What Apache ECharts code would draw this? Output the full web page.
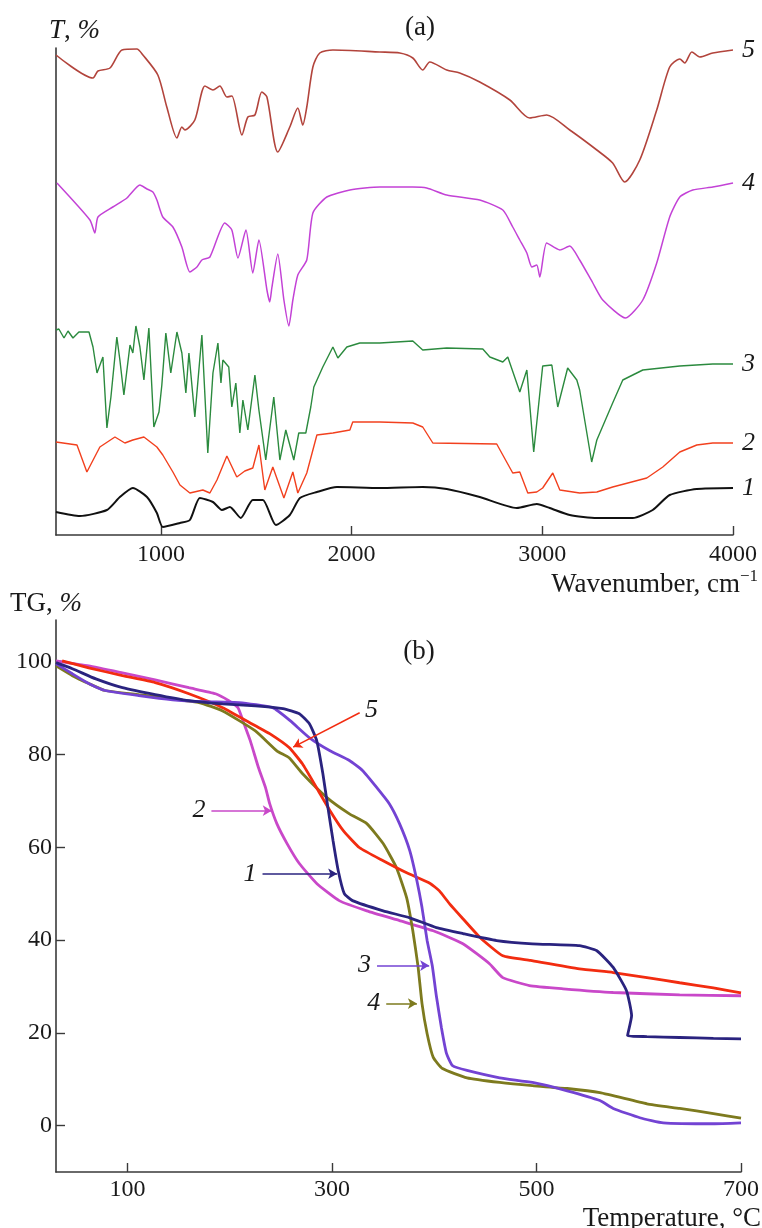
<!DOCTYPE html>
<html>
<head>
<meta charset="utf-8">
<script src="https://cdn.jsdelivr.net/npm/echarts@6/dist/echarts.min.js"></script>
<style>
  html, body { margin: 0; padding: 0; background: #fff; }
  #chart { width: 762px; height: 1228px; }
</style>
</head>
<body>
<div id="chart"></div>
<script>
// ---------- (a) IR spectra: [wavenumber, T (offset, a.u.)] ----------
const irSample5 = [[450,96.0],[644,91.4],[670,92.8],[733,93.4],[796,97.0],[874,97.2],[906,96.0],[984,92.0],[1031,85.6],[1084,79.4],[1110,81.6],[1126,81.0],[1178,83.0],[1231,89.8],[1273,89.0],[1309,89.8],[1346,87.6],[1372,87.8],[1425,80.0],[1456,83.6],[1493,84.0],[1529,88.6],[1556,87.6],[1613,76.6],[1676,81.6],[1718,85.4],[1744,82.0],[1765,85.6],[1797,93.6],[1833,96.4],[1902,97.0],[2148,96.6],[2253,96.4],[2321,95.4],[2373,93.0],[2410,94.6],[2499,93.0],[2567,92.4],[2672,90.6],[2830,87.0],[2934,83.4],[3023,84.0],[3144,81.0],[3286,77.0],[3369,74.4],[3432,70.6],[3511,75.0],[3600,85.0],[3668,93.6],[3721,95.2],[3747,94.4],[3784,96.6],[3826,95.6],[3894,96.4],[4000,97.0]];

const irSample4 = [[455,70.4],[628,63.0],[654,60.4],[670,63.6],[748,65.6],[822,67.4],[890,70.0],[927,69.2],[958,68.6],[979,67.0],[1010,63.6],[1063,61.6],[1110,57.6],[1152,52.6],[1189,53.6],[1215,55.0],[1257,55.6],[1335,62.4],[1372,61.0],[1404,55.4],[1446,61.0],[1482,52.4],[1514,59.0],[1556,49.0],[1571,46.6],[1582,49.5],[1613,56.2],[1645,47.0],[1671,41.8],[1692,47.0],[1718,52.0],[1765,55.0],[1797,64.4],[1870,67.6],[1991,69.0],[2148,69.6],[2321,69.6],[2394,69.4],[2499,68.0],[2672,67.0],[2793,65.0],[2845,61.6],[2882,59.0],[2919,56.4],[2945,53.6],[2971,54.0],[2987,51.6],[3023,58.4],[3092,57.0],[3144,57.8],[3196,55.0],[3265,50.4],[3317,47.0],[3437,43.4],[3527,47.0],[3600,54.4],[3668,63.6],[3721,67.6],[3789,69.0],[3894,69.6],[4000,70.4]];

const irSample3 = [[450,41.0],[465,41.2],[492,39.4],[513,40.8],[539,39.4],[570,40.6],[623,40.6],[644,37.6],[665,32.4],[696,35.6],[717,21.4],[738,27.6],[769,39.6],[785,35.0],[806,28.0],[838,38.0],[853,36.4],[869,41.8],[890,37.6],[911,31.0],[937,41.4],[963,21.6],[990,24.6],[1005,30.0],[1026,40.4],[1052,32.4],[1084,40.6],[1110,36.4],[1131,28.4],[1147,36.4],[1178,23.6],[1215,40.0],[1246,16.4],[1273,32.4],[1299,38.4],[1315,30.4],[1325,35.0],[1356,33.6],[1372,25.6],[1393,30.4],[1414,20.4],[1430,27.0],[1456,21.0],[1493,32.0],[1514,25.0],[1550,15.0],[1592,27.6],[1624,15.0],[1655,21.0],[1697,15.0],[1723,20.4],[1760,20.4],[1786,25.6],[1802,29.6],[1849,33.6],[1902,37.6],[1928,35.4],[1975,37.6],[2043,38.4],[2148,38.4],[2321,38.8],[2373,37.0],[2499,37.4],[2688,37.2],[2725,35.6],[2793,34.6],[2819,35.6],[2882,28.6],[2919,33.0],[2955,16.6],[3002,33.8],[3050,34.0],[3081,25.6],[3133,33.4],[3181,31.0],[3196,29.0],[3259,14.6],[3286,19.0],[3369,26.4],[3422,31.0],[3527,33.0],[3721,33.8],[3894,34.2],[4000,34.2]];

const irSample2 = [[450,18.6],[560,18.0],[612,12.6],[680,17.6],[759,19.6],[811,18.4],[853,19.0],[911,19.6],[979,17.6],[1010,16.0],[1063,12.6],[1100,10.0],[1152,8.4],[1220,9.0],[1257,8.4],[1294,11.0],[1346,15.8],[1398,11.6],[1440,12.8],[1482,13.4],[1514,18.0],[1545,9.0],[1587,13.6],[1645,7.4],[1692,12.6],[1718,8.4],[1765,12.4],[1818,20.0],[1902,20.4],[1991,21.0],[2006,22.6],[2148,22.6],[2321,22.4],[2373,21.6],[2426,18.4],[2761,18.2],[2845,12.4],[2882,12.6],[2924,8.4],[2971,8.6],[3002,9.4],[3055,12.4],[3092,9.0],[3196,8.4],[3286,8.6],[3369,9.6],[3548,11.4],[3632,13.6],[3721,16.6],[3810,18.0],[3894,18.4],[4000,18.4]];

const irSample1 = [[450,4.6],[575,3.8],[717,5.0],[785,7.6],[853,9.4],[927,7.6],[979,4.4],[1010,1.6],[1100,2.4],[1152,3.0],[1204,7.4],[1273,6.6],[1320,5.0],[1362,5.6],[1419,3.4],[1482,7.0],[1535,7.0],[1603,2.0],[1676,4.0],[1729,7.4],[1818,8.6],[1923,9.6],[2148,9.4],[2373,9.6],[2499,9.2],[2672,7.6],[2866,5.4],[2971,6.2],[3039,5.4],[3144,4.0],[3286,3.4],[3474,3.4],[3579,5.0],[3668,8.0],[3810,9.2],[4000,9.4]];

const irTicks = [1000, 2000, 3000, 4000];

// ---------- (b) TG curves: [temperature °C, mass %] ----------
const tg1 = [[30,99.8],[46,98.5],[69,96.3],[95,94.4],[127,92.9],[160,91.6],[193,90.9],[225,90.5],[252,89.9],[268,88.8],[278,86.6],[285,83.0],[291,75.9],[296,68.5],[301,61.4],[306,55.0],[312,50.0],[320,48.5],[350,46.3],[376,44.8],[402,42.7],[428,41.4],[461,39.9],[496,39.2],[542,38.8],[559,37.7],[575,34.1],[588,29.1],[593,23.7],[589,19.4],[608,19.2],[640,19.0],[673,18.8],[700,18.7]];

const tg2 = [[30,100.2],[62,99.1],[95,97.6],[127,96.1],[160,94.4],[186,93.1],[199,91.6],[208,90.1],[214,86.6],[220,83.0],[228,77.2],[235,72.8],[239,69.4],[246,65.1],[256,60.8],[268,56.5],[285,52.2],[307,48.5],[334,46.3],[366,44.2],[399,42.0],[428,39.2],[454,34.9],[467,31.9],[493,30.2],[526,29.5],[575,28.7],[640,28.2],[700,28.0]];

const tg3 = [[30,99.6],[46,97.4],[62,95.3],[78,93.8],[111,92.7],[144,91.8],[176,91.4],[209,91.2],[242,90.1],[259,87.3],[278,83.6],[298,80.8],[317,78.7],[330,76.5],[344,72.8],[356,69.4],[366,65.1],[376,59.3],[383,52.8],[388,47.0],[393,39.9],[398,34.5],[402,28.0],[407,21.1],[412,15.5],[418,12.9],[432,11.9],[464,10.3],[496,9.3],[530,7.5],[562,5.4],[575,3.7],[601,1.7],[624,0.6],[673,0.4],[700,0.6]];

const tg4 = [[30,99.1],[46,97.0],[62,95.3],[78,93.8],[111,92.9],[144,92.0],[170,91.2],[193,89.4],[225,85.1],[246,80.8],[258,79.3],[271,75.9],[295,70.7],[317,67.2],[334,65.1],[350,60.8],[363,55.6],[373,49.1],[379,42.0],[384,34.5],[388,26.3],[393,19.8],[399,14.7],[408,12.3],[432,10.3],[464,9.3],[496,8.6],[530,8.0],[562,7.1],[608,4.7],[640,3.7],[673,2.6],[700,1.6]];

const tg5 = [[36,100.2],[62,98.7],[95,97.0],[127,95.5],[160,93.1],[193,90.1],[225,86.2],[239,84.5],[258,81.5],[271,78.0],[285,72.8],[298,67.9],[311,63.6],[327,59.9],[350,57.1],[373,54.5],[396,52.2],[405,50.6],[415,47.8],[428,44.6],[445,40.5],[467,36.6],[494,35.6],[542,33.8],[575,33.0],[608,31.9],[640,30.8],[673,29.7],[700,28.6]];

const tgTicksX = [100, 300, 500, 700];
const tgTicksY = [0, 20, 40, 60, 80, 100];

// Curve-number pointers in (b): [label, from [T, %], to [T, %]]
const tgPointers = [
  ['5', [327, 89.0], [262, 81.6]],
  ['2', [182, 67.9], [241, 67.9]],
  ['1', [232, 54.3], [305, 54.3]],
  ['3', [344, 34.5], [395, 34.5]],
  ['4', [353, 26.3], [383, 26.3]]
];

const SERIF = '"Liberation Serif", "DejaVu Serif", "Times New Roman", serif';
const AXIS_COLOR = '#3a3a3a';
const TEXT_COLOR = '#1a1a1a';

const irColors = { '1': '#111111', '2': '#f2401e', '3': '#2b8a3e', '4': '#c342d6', '5': '#b2443c' };
const irSmooth = { '1': 0.2, '2': 0, '3': 0, '4': 0.2, '5': 0.25 };
const tgColors = { '1': '#2a237f', '2': '#c948c9', '3': '#7343d3', '4': '#7d7a1e', '5': '#f22c10' };

function irSeries(name, data, width) {
  return {
    name: name, type: 'line', xAxisIndex: 0, yAxisIndex: 0,
    data: data, showSymbol: false, smooth: irSmooth[name] || false,
    lineStyle: { color: irColors[name], width: width },
    endLabel: {
      show: true, formatter: name, distance: 9,
      fontFamily: SERIF, fontStyle: 'italic', fontSize: 26, color: TEXT_COLOR
    },
    animation: false, silent: true
  };
}

function tgSeries(name, data) {
  const ptr = tgPointers.find(p => p[0] === name);
  return {
    name: name, type: 'line', xAxisIndex: 1, yAxisIndex: 1,
    data: data, showSymbol: false, smooth: 0.15,
    lineStyle: { color: tgColors[name], width: 2.8 },
    markLine: {
      silent: true, animation: false,
      symbol: ['none', 'arrow'], symbolSize: [8, 9],
      lineStyle: { color: tgColors[name], width: 1.5, type: 'solid' },
      label: {
        show: true, position: 'start', distance: 6, formatter: name,
        fontFamily: SERIF, fontStyle: 'italic', fontSize: 26, color: TEXT_COLOR
      },
      data: [[{ coord: ptr[1] }, { coord: ptr[2] }]]
    },
    animation: false, silent: true
  };
}

const axisLineStyle = { show: true, onZero: false, lineStyle: { color: AXIS_COLOR, width: 1.6 } };
const tickStyle = { lineStyle: { color: AXIS_COLOR, width: 1.4 } };
const labelFont = { fontFamily: SERIF, fontSize: 24, color: TEXT_COLOR, formatter: v => String(v) };
const titleSize = 27;

const option = {
  backgroundColor: '#ffffff',
  animation: false,
  grid: [
    { left: 56, right: 29, top: 48, bottom: 693 },
    { left: 56, right: 21, top: 620, bottom: 56 }
  ],
  xAxis: [
    {
      type: 'value', gridIndex: 0, min: 450, max: 4000,
      axisLine: axisLineStyle, splitLine: { show: false },
      axisTick: Object.assign({ show: true, inside: true, length: 9, customValues: irTicks }, tickStyle),
      axisLabel: Object.assign({ show: true, margin: 8, customValues: irTicks }, labelFont)
    },
    {
      type: 'value', gridIndex: 1, min: 30, max: 700,
      axisLine: axisLineStyle, splitLine: { show: false },
      axisTick: Object.assign({ show: true, inside: true, length: 9, customValues: tgTicksX }, tickStyle),
      axisLabel: Object.assign({ show: true, margin: 6, customValues: tgTicksX }, labelFont)
    }
  ],
  yAxis: [
    {
      type: 'value', gridIndex: 0, min: 0, max: 97.4,
      axisLine: axisLineStyle, splitLine: { show: false },
      axisTick: { show: false }, axisLabel: { show: false }
    },
    {
      type: 'value', gridIndex: 1, min: -10, max: 109,
      axisLine: axisLineStyle, splitLine: { show: false },
      axisTick: Object.assign({ show: true, inside: true, length: 9, customValues: tgTicksY }, tickStyle),
      axisLabel: Object.assign({ show: true, margin: 4, customValues: tgTicksY }, labelFont)
    }
  ],
  series: [
    irSeries('1', irSample1, 2.0),
    irSeries('2', irSample2, 1.4),
    irSeries('3', irSample3, 1.4),
    irSeries('4', irSample4, 1.5),
    irSeries('5', irSample5, 1.6),
    tgSeries('2', tg2),
    tgSeries('4', tg4),
    tgSeries('5', tg5),
    tgSeries('3', tg3),
    tgSeries('1', tg1)
  ],
  graphic: [
    { type: 'text', x: 420, y: 28, style: { text: '(a)', fontFamily: SERIF, fontSize: titleSize, fill: TEXT_COLOR, align: 'center', verticalAlign: 'middle' } },
    { type: 'text', x: 419, y: 652, style: { text: '(b)', fontFamily: SERIF, fontSize: titleSize, fill: TEXT_COLOR, align: 'center', verticalAlign: 'middle' } },
    { type: 'text', x: 49, y: 31, style: {
        text: '{i|T}{n|, }{i|%}', align: 'left', verticalAlign: 'middle',
        rich: {
          i: { fontFamily: SERIF, fontStyle: 'italic', fontSize: titleSize, fill: TEXT_COLOR },
          n: { fontFamily: SERIF, fontSize: titleSize, fill: TEXT_COLOR }
        } } },
    { type: 'text', x: 10, y: 604, style: {
        text: '{n|TG, }{i|%}', align: 'left', verticalAlign: 'middle',
        rich: {
          i: { fontFamily: SERIF, fontStyle: 'italic', fontSize: titleSize, fill: TEXT_COLOR },
          n: { fontFamily: SERIF, fontSize: titleSize, fill: TEXT_COLOR }
        } } },
    { type: 'text', x: 758, y: 583, style: {
        text: '{a|Wavenumber, cm}{s|\u22121}', align: 'right', verticalAlign: 'middle',
        rich: {
          a: { fontFamily: SERIF, fontSize: titleSize, fill: TEXT_COLOR, lineHeight: 30, verticalAlign: 'bottom' },
          s: { fontFamily: SERIF, fontSize: 17, fill: TEXT_COLOR, lineHeight: 17, verticalAlign: 'top' }
        } } },
    { type: 'text', x: 761, y: 1219, style: { text: 'Temperature, \u00B0C', fontFamily: SERIF, fontSize: titleSize, fill: TEXT_COLOR, align: 'right', verticalAlign: 'middle' } }
  ]
};

const chart = echarts.init(document.getElementById('chart'), null, { renderer: 'canvas' });
chart.setOption(option);
</script>
</body>
</html>
